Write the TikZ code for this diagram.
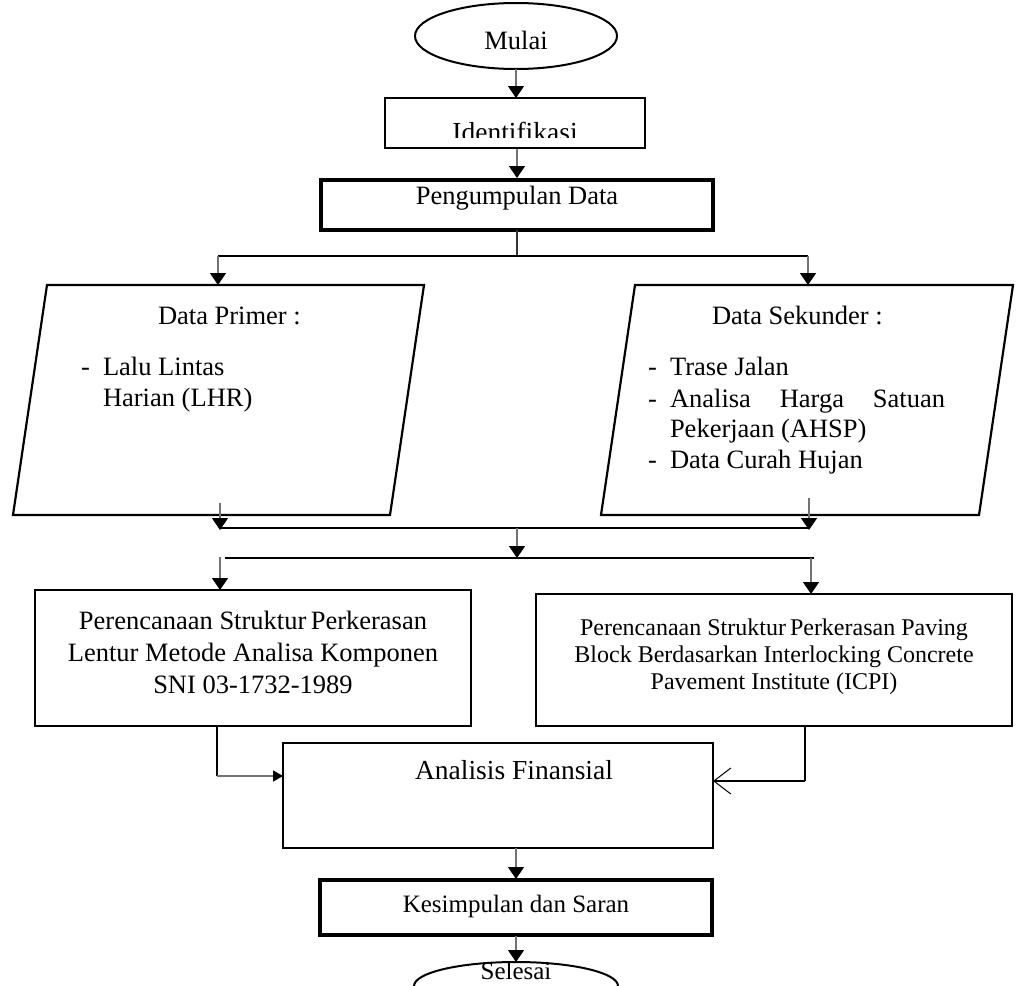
\documentclass[tikz,border=0pt]{standalone}
\usepackage{fontspec}
\setmainfont{Liberation Serif}
\usetikzlibrary{arrows.meta,shapes.geometric}
\begin{document}
\begin{tikzpicture}[x=1pt,y=-1pt,
  every node/.style={inner sep=0pt, outer sep=0pt},
  txt/.style={font=\fontsize{26.5}{32}\selectfont},
  stxt/.style={font=\fontsize{24}{27}\selectfont},
  box/.style={draw, line width=2.2pt, rectangle, anchor=north west},
  thickbox/.style={draw, line width=3.6pt, rectangle, anchor=north west},
  oval/.style={draw, line width=2pt, ellipse},
  conn/.style={line width=1.4pt, draw=black},
  arr/.style={line width=1.4pt, draw=black!55, -{Triangle[width=16pt,length=12pt,color=black]}},
  openarr/.style={line width=1.4pt, draw=black, -{Straight Barb[width=26pt,length=17pt,line width=1pt]}},
  para/.style={line width=2.2pt, draw=black, line join=miter}
]
\useasboundingbox (0,0) rectangle (1016,985);
\clip (0,0) rectangle (1016,985);

% start
\node[oval, minimum width=202pt, minimum height=66pt] (mulai) at (516,36) {};
\node[txt] (mulaiT) at (516,40) {Mulai};

% Identifikasi (text cut at bottom)
\node[box, minimum width=260pt, minimum height=50pt] (iden) at (385,98) {};
\begin{scope}
\clip (386,99) rectangle (644,137);
\node[txt, font=\fontsize{27.5}{32}\selectfont, anchor=base] (idenT) at (515,141) {Identifikasi};
\end{scope}

% Pengumpulan Data
\node[thickbox, minimum width=392pt, minimum height=50pt] (peng) at (321,180) {};
\node[txt] (pengT) at (517,198) {Pengumpulan Data};

\draw[arr] (mulai.south) -- (mulai.south |- iden.north);
\draw[arr] (517,149) -- (517,178);

% parallelograms
\coordinate (pTL) at (47,285);  \coordinate (pTR) at (424,285);
\coordinate (pBR) at (390,515); \coordinate (pBL) at (13,515);
\draw[para] (pTL) -- (pTR) -- (pBR) -- (pBL) -- cycle;
\coordinate (sTL) at (635,285); \coordinate (sTR) at (1013,285);
\coordinate (sBR) at (979,515); \coordinate (sBL) at (601,515);
\draw[para] (sTL) -- (sTR) -- (sBR) -- (sBL) -- cycle;

\node[txt, anchor=mid west] (primT) at (158,322) {Data Primer :};
\node[txt, anchor=mid west] (primD) at (81,373) {-};
\node[txt, anchor=mid west] (prim1) at (103,373) {Lalu Lintas};
\node[txt, anchor=mid west] (prim2) at (103,404) {Harian (LHR)};

\node[txt, anchor=mid west] (sekT) at (712,322) {Data Sekunder :};
\node[txt, anchor=mid west] (sekD1) at (648,373) {-};
\node[txt, anchor=mid west] (sek1) at (670,373) {Trase Jalan};
\node[txt, anchor=mid west] (sekD2) at (648,405) {-};
\node[txt, anchor=mid west] (sek2) at (670,405) {\makebox[275pt][s]{Analisa\hfill Harga\hfill Satuan}};
\node[txt, anchor=mid west] (sek3) at (670,435) {Pekerjaan (AHSP)};
\node[txt, anchor=mid west] (sekD4) at (648,466) {-};
\node[txt, anchor=mid west] (sek4) at (670,466) {Data Curah Hujan};

% split from Pengumpulan
\coordinate (s1) at (517,256);
\coordinate (s1L) at (218,256);
\coordinate (s1R) at (808,256);
\coordinate (primIn) at (218,285);
\coordinate (sekIn) at (808,285);
\draw[conn, draw=black!80] (peng.south) -- (s1);
\draw[conn] (s1L) -- (s1R);
\draw[arr] (s1L) -- (primIn);
\draw[arr] (s1R) -- (sekIn);

% merge
\coordinate (primOut) at (220,503);
\coordinate (sekOut) at (809,498);
\coordinate (m1L) at (220,530);
\coordinate (m1R) at (809,530);
\coordinate (m1C) at (517,528);
\coordinate (m2C) at (517,558);
\coordinate (m2L) at (225,558);
\coordinate (m2R) at (814,558);
\draw[arr] (primOut) -- (m1L);
\draw[arr] (sekOut) -- (m1R);
\draw[conn] (220,528) -- (809,528);
\draw[arr] (m1C) -- (m2C);
\draw[conn] (m2L) -- (m2R);

% two planning boxes
\node[box, minimum width=436pt, minimum height=136pt] (lentur) at (35,590) {};
\node[txt, align=center] (lenturT) at (253,652) {Perencanaan Struktur\,Perkerasan\\Lentur Metode Analisa Komponen\\SNI 03-1732-1989};
\node[box, minimum width=476pt, minimum height=132pt] (paving) at (536,594) {};
\node[stxt, align=center] (pavingT) at (774,657) {Perencanaan Struktur\,Perkerasan Paving\\Block Berdasarkan Interlocking Concrete\\Pavement Institute (ICPI)};

\coordinate (lIn) at (220,557);
\coordinate (rIn) at (811,558);
\draw[arr] (lIn) -- (lIn |- lentur.north);
\draw[arr] (rIn) -- (rIn |- paving.north);

% Analisis Finansial
\node[box, minimum width=430pt, minimum height=105pt] (anal) at (283,743) {};
\node[txt, font=\fontsize{27.5}{32}\selectfont] (analT) at (514,770) {Analisis Finansial};

\coordinate (lDown) at (217,776);
\coordinate (rDown) at (805,781);
\draw[conn] (217,726) -- (lDown);
\draw[line width=1.4pt, draw=black!55, -{Triangle[width=11pt,length=10pt,color=black]}] (lDown) -- (lDown -| anal.west);
\draw[conn] (805,726) -- (rDown);
\draw[openarr] (rDown) -- (rDown -| anal.east);

% Kesimpulan
\node[thickbox, minimum width=392pt, minimum height=55pt] (kes) at (320,880) {};
\node[txt, font=\fontsize{25}{30}\selectfont] (kesT) at (516,906) {Kesimpulan dan Saran};
\draw[arr] (516,848) -- (516,879);

% Selesai
\node[oval, minimum width=204pt, minimum height=48pt] (sel) at (516,986) {};
\node[txt, font=\fontsize{25}{30}\selectfont] (selT) at (516,971) {Selesai};
\draw[arr] (516,936) -- (sel.north);
\end{tikzpicture}
\end{document}
